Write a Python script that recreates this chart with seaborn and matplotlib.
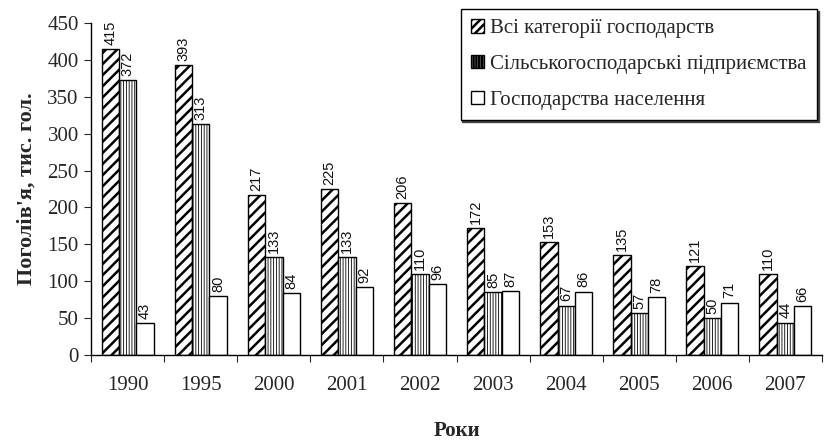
import numpy as np
import matplotlib
matplotlib.use("Agg")
import matplotlib.pyplot as plt
import seaborn as sns
import pandas as pd
from matplotlib.patches import Patch

# Chart data
years = ["1990", "1995", "2000", "2001", "2002", "2003", "2004", "2005", "2006", "2007"]
all_farms = [415, 393, 217, 225, 206, 172, 153, 135, 121, 110]
agri_enterprises = [372, 313, 133, 133, 110, 85, 67, 57, 50, 44]
households = [43, 80, 84, 92, 96, 87, 86, 78, 71, 66]
series_names = ["Всі категорії господарств", "Сільськогосподарські підприємства", "Господарства населення"]

df = pd.DataFrame({"year": years * 3,
                   "value": all_farms + agri_enterprises + households,
                   "series": [series_names[0]] * 10 + [series_names[1]] * 10 + [series_names[2]] * 10})

sns.set_style("ticks")
plt.rcParams["font.family"] = ["Liberation Serif", "DejaVu Serif"]
plt.rcParams["hatch.linewidth"] = 1.8

fig = plt.figure(figsize=(8.29, 4.40), dpi=100)
ax = fig.add_axes([0.110, 0.193, 0.8815, 0.755])

sns.barplot(data=df, x="year", y="value", hue="series", palette=["white"] * 3,
            edgecolor="black", linewidth=1.0, width=0.71, gap=0, ax=ax, legend=False)

hatches = ["///", "||||||", ""]
for cont, h in zip(ax.containers, hatches):
    for bar in cont:
        bar.set_hatch(h)
        if h.startswith("|"):
            try:
                bar.set_hatch_linewidth(0.6)
            except AttributeError:
                pass
    # value labels above bars
    ax.bar_label(cont, rotation=90, padding=3, fontsize=10.5,
                 family="Liberation Sans", color="#111111")

# legend with small shadow
handles = [Patch(facecolor="white", edgecolor="black", hatch=h, label=n)
           for h, n in zip(["////", "||||||", ""], series_names)]
leg = ax.legend(handles=handles, loc="upper right", bbox_to_anchor=(0.993, 1.042),
                fontsize=15, frameon=True, fancybox=False,
                shadow={"ox": 1.2, "oy": -1.2, "color": "#444444", "alpha": 1},
                handlelength=0.6, handleheight=0.6, handletextpad=0.3, borderaxespad=0,
                borderpad=0.5, labelspacing=0.8, edgecolor="black", framealpha=1)
leg.get_frame().set_linewidth(1.0)
for t in leg.get_texts():
    t.set_family(["Liberation Serif", "DejaVu Serif"])

ax.set_ylim(0, 450)
ax.set_yticks(np.arange(0, 451, 50))
ax.set_xlim(-0.5, 9.5)
ax.set_xticks(np.arange(-0.5, 9.6, 1))
ax.set_xticklabels([])
ax.set_xticks(np.arange(10), minor=True)
ax.set_xticklabels(years, minor=True)
ax.tick_params(axis="x", which="minor", length=0, pad=15, labelsize=15)
ax.tick_params(axis="x", which="major", length=5, direction="out")
ax.tick_params(axis="y", length=5, direction="out", labelsize=15, pad=4)

ax.set_xlabel("Роки", fontsize=15, fontweight="bold", labelpad=19)
ax.set_ylabel("Поголів'я, тис. гол.", fontsize=16, fontweight="bold", labelpad=8)

sns.despine(ax=ax)
for s in ["left", "bottom"]:
    ax.spines[s].set_linewidth(1.0)
    ax.spines[s].set_color("black")

fig.savefig("out.png", dpi=100)
